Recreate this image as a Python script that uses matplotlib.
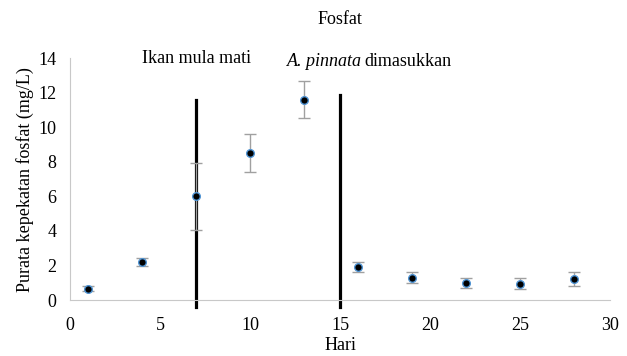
import numpy as np
import matplotlib
matplotlib.use("Agg")
import matplotlib.pyplot as plt

plt.rcParams['font.family'] = 'Liberation Serif'

hari = [1, 4, 7, 10, 13, 16, 19, 22, 25, 28]
fosfat = [0.65, 2.2, 6.0, 8.5, 11.6, 1.9, 1.3, 1.0, 0.95, 1.2]
ralat = [0.15, 0.25, 1.95, 1.1, 1.05, 0.3, 0.3, 0.3, 0.33, 0.4]

peristiwa_x = [7, 15]
peristiwa_top = [11.6, 11.85]

fig = plt.figure(figsize=(6.27, 3.56), dpi=100)
ax = fig.add_axes([0.112, 0.157, 0.861, 0.68])

ax.errorbar(hari, fosfat, yerr=ralat, fmt='o', color='black', markersize=5.5,
            markeredgecolor='#4f94d4', markeredgewidth=1.0,
            ecolor='#a0a0a0', elinewidth=1.0, capsize=4, capthick=1.0, zorder=3)

for x, top in zip(peristiwa_x, peristiwa_top):
    ax.plot([x, x], [-0.4, top], color='black', linewidth=2.3, clip_on=False, zorder=2)

ax.text(7, 13.95, "Ikan mula mati", ha='center', va='center', fontsize=13)
ax.text(16.35, 13.8, "dimasukkan", ha='left', va='center', fontsize=13)
ax.text(16.2, 13.8, "A. pinnata", ha='right', va='center', fontsize=13, style='italic')

ax.set_xlim(0, 30)
ax.set_ylim(0, 14)
ax.set_xticks(range(0, 31, 5))
ax.set_yticks(range(0, 15, 2))
ax.tick_params(axis='y', length=0, labelsize=13, pad=10)
ax.tick_params(axis='x', length=0, labelsize=13, pad=12)

for s in ['top', 'right']:
    ax.spines[s].set_visible(False)
for s in ['left', 'bottom']:
    ax.spines[s].set_color('#c8c8c8')
    ax.spines[s].set_linewidth(0.8)

ax.set_xlabel("Hari", fontsize=13, labelpad=2)
ax.set_ylabel("Purata kepekatan fosfat (mg/L)", fontsize=13, labelpad=3)
fig.text(0.542, 0.945, "Fosfat", ha='center', va='center', fontsize=13)

fig.savefig("out.png", dpi=100)
